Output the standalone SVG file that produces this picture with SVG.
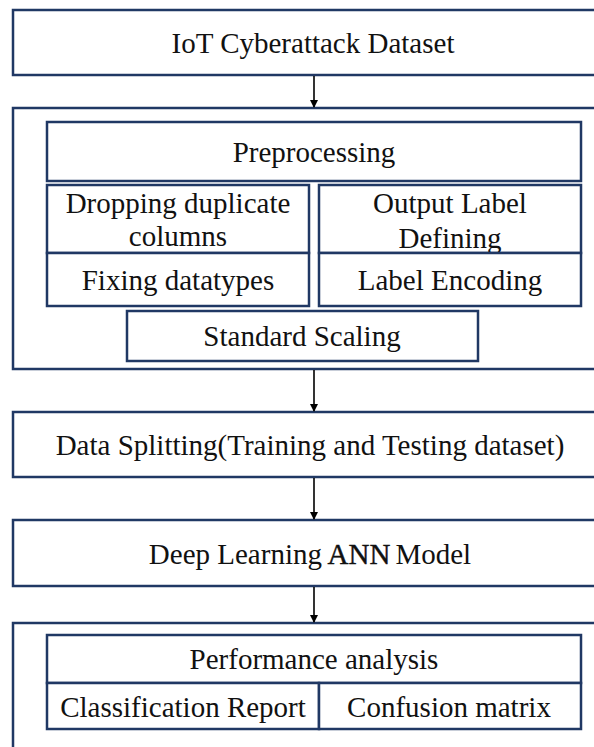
<svg xmlns="http://www.w3.org/2000/svg" width="594" height="747" viewBox="0 0 594 747">
<style>
.box{fill:#fff;stroke:#203864;stroke-width:2.5}
.t{font-family:"Liberation Serif","Times New Roman",serif;font-size:29px;fill:#111;text-anchor:middle;dominant-baseline:central}
.c{stroke:#000;stroke-width:1.6;fill:none}
</style>
<defs>
<marker id="ah" markerWidth="8" markerHeight="8" refX="7" refY="4" orient="auto" markerUnits="userSpaceOnUse">
<path d="M0,0 L8,4 L0,8 Z" fill="#000"/>
</marker>
</defs>
<rect width="594" height="747" fill="#fff"/>
<g id="dataset">
<rect class="box" x="13" y="10" width="620" height="65"/>
<text class="t" x="313" y="42.5">IoT Cyberattack Dataset</text>
</g>
<g id="preprocessing-group">
<rect class="box" x="13" y="108" width="620" height="261"/>
</g>
<g id="preprocessing">
<rect class="box" x="47" y="122" width="534" height="59"/>
<text class="t" x="314" y="151.5">Preprocessing</text>
</g>
<g id="dropping">
<rect class="box" x="47" y="185" width="262" height="68"/>
<text class="t" x="178" y="202.5">Dropping duplicate</text>
<text class="t" x="178" y="236">columns</text>
</g>
<g id="output-label">
<rect class="box" x="319" y="185" width="262" height="68"/>
<text class="t" x="450" y="202.5">Output Label</text>
<text class="t" x="450" y="238">Defining</text>
</g>
<g id="fixing">
<rect class="box" x="47" y="253" width="262" height="53"/>
<text class="t" x="178" y="279.5">Fixing datatypes</text>
</g>
<g id="label-encoding">
<rect class="box" x="319" y="253" width="262" height="53"/>
<text class="t" x="450" y="279.5">Label Encoding</text>
</g>
<g id="scaling">
<rect class="box" x="127" y="311" width="351" height="50"/>
<text class="t" x="302" y="336">Standard Scaling</text>
</g>
<g id="splitting">
<rect class="box" x="13" y="412" width="620" height="65"/>
<text class="t" x="310" y="444.5">Data Splitting(Training and Testing dataset)</text>
</g>
<g id="model">
<rect class="box" x="13" y="520" width="620" height="66"/>
<text class="t" x="310" y="554">Deep Learning <tspan stroke="#111" stroke-width="0.4">ANN</tspan><tspan dx="5">Model</tspan></text>
</g>
<g id="performance-group">
<rect class="box" x="13" y="623" width="620" height="140"/>
</g>
<g id="performance">
<rect class="box" x="47" y="635" width="534" height="48"/>
<text class="t" x="314" y="659">Performance analysis</text>
</g>
<g id="classification">
<rect class="box" x="47" y="683" width="272" height="46"/>
<text class="t" x="183" y="706.5">Classification Report</text>
</g>
<g id="confusion">
<rect class="box" x="319" y="683" width="262" height="46"/>
<text class="t" x="449" y="706.5">Confusion matrix</text>
</g>
<g id="connectors">
<line class="c" x1="314" y1="76" x2="314" y2="107" marker-end="url(#ah)"/>
<line class="c" x1="314" y1="370" x2="314" y2="411" marker-end="url(#ah)"/>
<line class="c" x1="314" y1="478" x2="314" y2="519" marker-end="url(#ah)"/>
<line class="c" x1="314" y1="587" x2="314" y2="622" marker-end="url(#ah)"/>
</g>
</svg>
